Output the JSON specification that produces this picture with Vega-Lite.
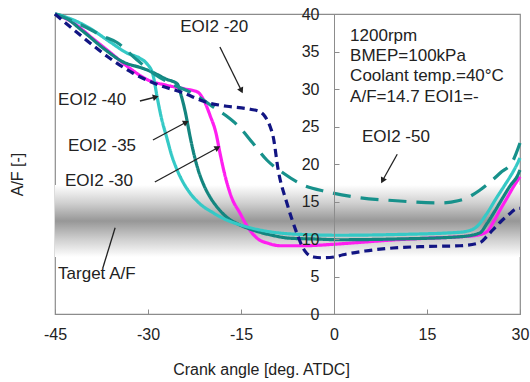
{
  "$schema": "https://vega.github.io/schema/vega-lite/v6.json",
  "width": 465,
  "height": 300,
  "autosize": {"type": "none"},
  "padding": {"left": 55, "top": 14, "right": 10, "bottom": 68},
  "background": "white",
  "config": {
    "view": {"stroke": "#8c8c8c", "strokeWidth": 1.2},
    "font": "Liberation Sans",
    "axis": {"grid": false, "domainColor": "#8c8c8c", "tickColor": "#8c8c8c", "labelColor": "#222", "titleColor": "#222", "labelFontSize": 16, "titleFontSize": 16, "titleFontWeight": "normal", "labelFont": "Liberation Sans", "titleFont": "Liberation Sans", "labelFlush": false},
    "axisY": {"labelOverlap": false}
  },
  "datasets": {
    "curves": [
      {"s": "EOI2 -30", "x": -45, "y": 40}, {"s": "EOI2 -30", "x": -42, "y": 38.8}, {"s": "EOI2 -30", "x": -39, "y": 36.8}, {"s": "EOI2 -30", "x": -36, "y": 34.8}, {"s": "EOI2 -30", "x": -33, "y": 32.8}, {"s": "EOI2 -30", "x": -30, "y": 31.2}, {"s": "EOI2 -30", "x": -27, "y": 30.5}, {"s": "EOI2 -30", "x": -24, "y": 30.0}, {"s": "EOI2 -30", "x": -22, "y": 29.6}, {"s": "EOI2 -30", "x": -21, "y": 28.5}, {"s": "EOI2 -30", "x": -20, "y": 26.5}, {"s": "EOI2 -30", "x": -19, "y": 24}, {"s": "EOI2 -30", "x": -18.4, "y": 21.5}, {"s": "EOI2 -30", "x": -17.5, "y": 18.2}, {"s": "EOI2 -30", "x": -16.5, "y": 15.5}, {"s": "EOI2 -30", "x": -15.2, "y": 13.5}, {"s": "EOI2 -30", "x": -14, "y": 11.7}, {"s": "EOI2 -30", "x": -12.4, "y": 10.1}, {"s": "EOI2 -30", "x": -10.5, "y": 9.4}, {"s": "EOI2 -30", "x": -8.7, "y": 9.1}, {"s": "EOI2 -30", "x": -5, "y": 9.1}, {"s": "EOI2 -30", "x": 0, "y": 9.3}, {"s": "EOI2 -30", "x": 5, "y": 9.6}, {"s": "EOI2 -30", "x": 10, "y": 9.9}, {"s": "EOI2 -30", "x": 15, "y": 10.1}, {"s": "EOI2 -30", "x": 20.3, "y": 10.3}, {"s": "EOI2 -30", "x": 23, "y": 10.5}, {"s": "EOI2 -30", "x": 24.7, "y": 11.0}, {"s": "EOI2 -30", "x": 25.8, "y": 12.4}, {"s": "EOI2 -30", "x": 26.8, "y": 13.9}, {"s": "EOI2 -30", "x": 28, "y": 15.6}, {"s": "EOI2 -30", "x": 28.9, "y": 16.9}, {"s": "EOI2 -30", "x": 30, "y": 18.3},
      {"s": "EOI2 -35", "x": -45, "y": 40}, {"s": "EOI2 -35", "x": -44, "y": 39.8}, {"s": "EOI2 -35", "x": -40.5, "y": 37.7}, {"s": "EOI2 -35", "x": -37, "y": 35.3}, {"s": "EOI2 -35", "x": -34, "y": 33.6}, {"s": "EOI2 -35", "x": -31, "y": 32.8}, {"s": "EOI2 -35", "x": -29.7, "y": 32.4}, {"s": "EOI2 -35", "x": -27, "y": 31.3}, {"s": "EOI2 -35", "x": -25.3, "y": 30.7}, {"s": "EOI2 -35", "x": -24.6, "y": 29}, {"s": "EOI2 -35", "x": -24, "y": 27}, {"s": "EOI2 -35", "x": -23.2, "y": 23.6}, {"s": "EOI2 -35", "x": -22.5, "y": 21}, {"s": "EOI2 -35", "x": -21.9, "y": 19.2}, {"s": "EOI2 -35", "x": -21, "y": 17.2}, {"s": "EOI2 -35", "x": -20, "y": 15.6}, {"s": "EOI2 -35", "x": -18.7, "y": 14.1}, {"s": "EOI2 -35", "x": -17.3, "y": 12.9}, {"s": "EOI2 -35", "x": -15.5, "y": 12}, {"s": "EOI2 -35", "x": -13.1, "y": 11.2}, {"s": "EOI2 -35", "x": -10, "y": 10.5}, {"s": "EOI2 -35", "x": -7.1, "y": 10.1}, {"s": "EOI2 -35", "x": -3, "y": 10.0}, {"s": "EOI2 -35", "x": 0.8, "y": 9.9}, {"s": "EOI2 -35", "x": 10, "y": 10.0}, {"s": "EOI2 -35", "x": 20.3, "y": 10.3}, {"s": "EOI2 -35", "x": 23.5, "y": 10.8}, {"s": "EOI2 -35", "x": 24.7, "y": 12.1}, {"s": "EOI2 -35", "x": 26, "y": 13.8}, {"s": "EOI2 -35", "x": 27.3, "y": 15.6}, {"s": "EOI2 -35", "x": 28.5, "y": 17.2}, {"s": "EOI2 -35", "x": 29.5, "y": 18.3}, {"s": "EOI2 -35", "x": 30, "y": 19.2},
      {"s": "EOI2 -40", "x": -45, "y": 40}, {"s": "EOI2 -40", "x": -42, "y": 39.2}, {"s": "EOI2 -40", "x": -39.4, "y": 38.1}, {"s": "EOI2 -40", "x": -36, "y": 36.2}, {"s": "EOI2 -40", "x": -33.4, "y": 34.8}, {"s": "EOI2 -40", "x": -31.3, "y": 34.1}, {"s": "EOI2 -40", "x": -30.2, "y": 33.4}, {"s": "EOI2 -40", "x": -29.2, "y": 31.9}, {"s": "EOI2 -40", "x": -28.5, "y": 28.8}, {"s": "EOI2 -40", "x": -27.8, "y": 26}, {"s": "EOI2 -40", "x": -27, "y": 23.6}, {"s": "EOI2 -40", "x": -26.2, "y": 21.2}, {"s": "EOI2 -40", "x": -25.3, "y": 19.2}, {"s": "EOI2 -40", "x": -24.3, "y": 17.5}, {"s": "EOI2 -40", "x": -23.2, "y": 16.1}, {"s": "EOI2 -40", "x": -21.5, "y": 14.6}, {"s": "EOI2 -40", "x": -19.5, "y": 13.5}, {"s": "EOI2 -40", "x": -17.5, "y": 12.6}, {"s": "EOI2 -40", "x": -15.2, "y": 11.9}, {"s": "EOI2 -40", "x": -12.5, "y": 11.3}, {"s": "EOI2 -40", "x": -9.8, "y": 10.9}, {"s": "EOI2 -40", "x": -5, "y": 10.6}, {"s": "EOI2 -40", "x": 0.8, "y": 10.5}, {"s": "EOI2 -40", "x": 10, "y": 10.6}, {"s": "EOI2 -40", "x": 20.3, "y": 10.9}, {"s": "EOI2 -40", "x": 22.4, "y": 11.3}, {"s": "EOI2 -40", "x": 23.1, "y": 11.7}, {"s": "EOI2 -40", "x": 24.5, "y": 13.2}, {"s": "EOI2 -40", "x": 26.3, "y": 15.6}, {"s": "EOI2 -40", "x": 27.4, "y": 17}, {"s": "EOI2 -40", "x": 28.4, "y": 18.3}, {"s": "EOI2 -40", "x": 29.3, "y": 19.6}, {"s": "EOI2 -40", "x": 30, "y": 20.8},
      {"s": "EOI2 -50", "x": -45, "y": 40}, {"s": "EOI2 -50", "x": -42, "y": 39}, {"s": "EOI2 -50", "x": -39, "y": 37.8}, {"s": "EOI2 -50", "x": -37.7, "y": 37.2}, {"s": "EOI2 -50", "x": -35, "y": 36.2}, {"s": "EOI2 -50", "x": -31.8, "y": 33.9}, {"s": "EOI2 -50", "x": -29, "y": 32}, {"s": "EOI2 -50", "x": -26, "y": 30.6}, {"s": "EOI2 -50", "x": -23, "y": 29.5}, {"s": "EOI2 -50", "x": -21, "y": 28.5}, {"s": "EOI2 -50", "x": -19.5, "y": 27.6}, {"s": "EOI2 -50", "x": -17.5, "y": 26.5}, {"s": "EOI2 -50", "x": -15.6, "y": 25.2}, {"s": "EOI2 -50", "x": -13.1, "y": 22.8}, {"s": "EOI2 -50", "x": -10.8, "y": 20.5}, {"s": "EOI2 -50", "x": -8.2, "y": 18.8}, {"s": "EOI2 -50", "x": -5, "y": 17.2}, {"s": "EOI2 -50", "x": -1.1, "y": 16.3}, {"s": "EOI2 -50", "x": 4.2, "y": 15.5}, {"s": "EOI2 -50", "x": 10, "y": 15.1}, {"s": "EOI2 -50", "x": 17.1, "y": 14.8}, {"s": "EOI2 -50", "x": 20, "y": 15.1}, {"s": "EOI2 -50", "x": 21.5, "y": 15.5}, {"s": "EOI2 -50", "x": 23.5, "y": 16.5}, {"s": "EOI2 -50", "x": 25.2, "y": 17.6}, {"s": "EOI2 -50", "x": 26.8, "y": 18.8}, {"s": "EOI2 -50", "x": 28.9, "y": 20.5}, {"s": "EOI2 -50", "x": 30, "y": 22.8},
      {"s": "EOI2 -20", "x": -45, "y": 40}, {"s": "EOI2 -20", "x": -43, "y": 38.6}, {"s": "EOI2 -20", "x": -40.5, "y": 36.9}, {"s": "EOI2 -20", "x": -36.5, "y": 34.3}, {"s": "EOI2 -20", "x": -32.4, "y": 32.1}, {"s": "EOI2 -20", "x": -28.5, "y": 30.6}, {"s": "EOI2 -20", "x": -24.4, "y": 29.5}, {"s": "EOI2 -20", "x": -20.5, "y": 28.2}, {"s": "EOI2 -20", "x": -17.3, "y": 27.7}, {"s": "EOI2 -20", "x": -13.5, "y": 27.3}, {"s": "EOI2 -20", "x": -12, "y": 27.0}, {"s": "EOI2 -20", "x": -11.1, "y": 26.3}, {"s": "EOI2 -20", "x": -10.3, "y": 25}, {"s": "EOI2 -20", "x": -9.8, "y": 23.6}, {"s": "EOI2 -20", "x": -9.0, "y": 19.2}, {"s": "EOI2 -20", "x": -7.6, "y": 14.8}, {"s": "EOI2 -20", "x": -6.0, "y": 10.8}, {"s": "EOI2 -20", "x": -5, "y": 8.8}, {"s": "EOI2 -20", "x": -4.4, "y": 8.1}, {"s": "EOI2 -20", "x": -3.3, "y": 7.6}, {"s": "EOI2 -20", "x": -2.0, "y": 7.5}, {"s": "EOI2 -20", "x": 0, "y": 7.6}, {"s": "EOI2 -20", "x": 1.45, "y": 7.9}, {"s": "EOI2 -20", "x": 5, "y": 8.4}, {"s": "EOI2 -20", "x": 9.5, "y": 8.8}, {"s": "EOI2 -20", "x": 15, "y": 9.0}, {"s": "EOI2 -20", "x": 20.3, "y": 9.1}, {"s": "EOI2 -20", "x": 23.5, "y": 9.5}, {"s": "EOI2 -20", "x": 24.6, "y": 10.3}, {"s": "EOI2 -20", "x": 25.6, "y": 11.2}, {"s": "EOI2 -20", "x": 27, "y": 12.4}, {"s": "EOI2 -20", "x": 28.4, "y": 13.4}, {"s": "EOI2 -20", "x": 29.3, "y": 14.0}, {"s": "EOI2 -20", "x": 30, "y": 14.1}
    ],
    "arrows": [
      {"k": "-20", "x": -18.4, "y": 35.6, "x2": -15.0, "y2": 29.9},
      {"k": "-40", "x": -31.3, "y": 28.4, "x2": -28.9, "y2": 28.9},
      {"k": "-35", "x": -29.2, "y": 23.2, "x2": -24.0, "y2": 25.5},
      {"k": "-30", "x": -28.9, "y": 17.6, "x2": -18.9, "y2": 22.1},
      {"k": "-50", "x": 10.2, "y": 21.3, "x2": 7.9, "y2": 17.9},
      {"k": "target", "x": -35.3, "y": 11.5, "x2": -37.3, "y2": 6.1}
    ],
    "labels": [
      {"t": "EOI2 -20", "x": -24.8, "y": 38.3},
      {"t": "EOI2 -40", "x": -44.5, "y": 28.5},
      {"t": "EOI2 -35", "x": -42.9, "y": 22.4},
      {"t": "EOI2 -30", "x": -43.4, "y": 17.7},
      {"t": "EOI2 -50", "x": 4.5, "y": 23.6},
      {"t": "Target A/F", "x": -44.5, "y": 5.3},
      {"t": "1200rpm", "x": 2.6, "y": 37.1},
      {"t": "BMEP=100kPa", "x": 2.6, "y": 34.4},
      {"t": "Coolant temp.=40°C", "x": 2.6, "y": 31.8},
      {"t": "A/F=14.7  EOI1=-", "x": 2.6, "y": 29.0}
    ],
    "band": [{"x": -45, "x2": 30, "y": 7.6, "y2": 17.2}]
  },
  "encoding": {
    "x": {"field": "x", "type": "quantitative", "scale": {"domain": [-45, 30], "nice": false, "zero": false},
          "axis": {"orient": "bottom", "values": [-45, -30, -15, 0, 15, 30], "labelExpr": "'' + datum.value", "labelOverlap": false, "labelBound": false, "tickSize": -5, "labelPadding": 17, "zindex": 1, "title": "Crank angle [deg. ATDC]", "titleX": 206, "titleY": 55, "titleBaseline": "middle", "titleAnchor": null, "titleAlign": "center"}},
    "y": {"field": "y", "type": "quantitative", "scale": {"domain": [0, 40], "nice": false},
          "axis": {"orient": "left", "offset": -279, "values": [0, 5, 10, 15, 20, 25, 30, 35, 40], "labelExpr": "'' + datum.value", "labelOverlap": false, "labelBound": false, "tickSize": -5, "labelPadding": 20, "zindex": 1, "title": "A/F [-]", "titleX": -317, "titleY": 160, "titleAngle": 270, "titleAlign": "center", "titleBaseline": "middle", "titleAnchor": null}}
  },
  "layer": [
    {
      "data": {"name": "band"},
      "mark": {"type": "rect", "color": {"gradient": "linear", "x1": 0, "y1": 0, "x2": 0, "y2": 1, "stops": [{"offset": 0, "color": "#ffffff"}, {"offset": 0.25, "color": "#d0d0d0"}, {"offset": 0.5, "color": "#979797"}, {"offset": 0.75, "color": "#cecece"}, {"offset": 1, "color": "#ffffff"}]}},
      "encoding": {
        "x2": {"field": "x2"},
        "y2": {"field": "y2"}
      }
    },
    {
      "data": {"name": "curves"},
      "mark": {"type": "line", "interpolate": "monotone", "strokeWidth": 3.2, "strokeCap": "butt"},
      "encoding": {
        "color": {"field": "s", "type": "nominal", "legend": null,
                  "scale": {"domain": ["EOI2 -30", "EOI2 -35", "EOI2 -40", "EOI2 -50", "EOI2 -20"], "range": ["#ff1ef0", "#13857f", "#35c9c6", "#17918b", "#121583"]}},
        "strokeDash": {"field": "s", "type": "nominal", "legend": null,
                  "scale": {"domain": ["EOI2 -30", "EOI2 -35", "EOI2 -40", "EOI2 -50", "EOI2 -20"], "range": [[1, 0], [1, 0], [1, 0], [18, 10], [8, 5]]}},
        "order": {"field": "x", "type": "quantitative"}
      }
    },
    {
      "data": {"name": "arrows"},
      "mark": {"type": "rule", "color": "#222", "strokeWidth": 1.3},
      "encoding": {
        "x2": {"field": "x2"},
        "y2": {"field": "y2"}
      }
    },
    {"data": {"name": "arrows"}, "transform": [{"filter": "datum.k == '-20'"}], "mark": {"type": "point", "shape": "triangle", "filled": true, "color": "#222", "size": 45, "opacity": 1, "angle": 154}, "encoding": {"x": {"field": "x2", "type": "quantitative"}, "y": {"field": "y2", "type": "quantitative"}}},
    {"data": {"name": "arrows"}, "transform": [{"filter": "datum.k == '-40'"}], "mark": {"type": "point", "shape": "triangle", "filled": true, "color": "#222", "size": 45, "opacity": 1, "angle": 75}, "encoding": {"x": {"field": "x2", "type": "quantitative"}, "y": {"field": "y2", "type": "quantitative"}}},
    {"data": {"name": "arrows"}, "transform": [{"filter": "datum.k == '-35'"}], "mark": {"type": "point", "shape": "triangle", "filled": true, "color": "#222", "size": 45, "opacity": 1, "angle": 62}, "encoding": {"x": {"field": "x2", "type": "quantitative"}, "y": {"field": "y2", "type": "quantitative"}}},
    {"data": {"name": "arrows"}, "transform": [{"filter": "datum.k == '-30'"}], "mark": {"type": "point", "shape": "triangle", "filled": true, "color": "#222", "size": 45, "opacity": 1, "angle": 61}, "encoding": {"x": {"field": "x2", "type": "quantitative"}, "y": {"field": "y2", "type": "quantitative"}}},
    {"data": {"name": "arrows"}, "transform": [{"filter": "datum.k == '-50'"}], "mark": {"type": "point", "shape": "triangle", "filled": true, "color": "#222", "size": 45, "opacity": 1, "angle": 208}, "encoding": {"x": {"field": "x2", "type": "quantitative"}, "y": {"field": "y2", "type": "quantitative"}}},
    {
      "data": {"name": "labels"},
      "mark": {"type": "text", "align": "left", "baseline": "middle", "fontSize": 17, "font": "Liberation Sans", "color": "#222"},
      "encoding": {
        "text": {"field": "t"}
      }
    }
  ]
}
